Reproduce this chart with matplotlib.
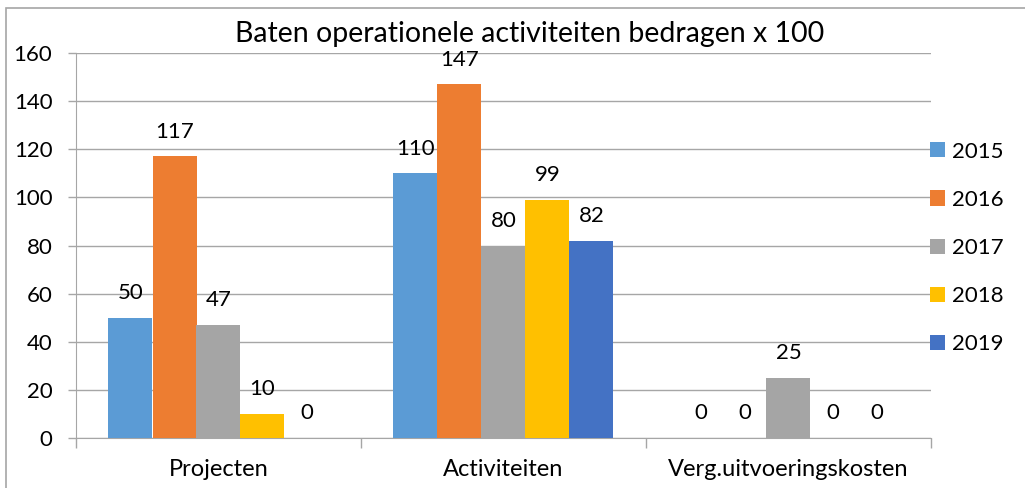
import matplotlib
matplotlib.use("Agg")
import matplotlib.pyplot as plt
import numpy as np
from matplotlib.patches import Rectangle

plt.rcParams['font.family'] = ['Lato', 'DejaVu Sans']

categories = ['Projecten', 'Activiteiten', 'Verg.uitvoeringskosten']
years = ['2015', '2016', '2017', '2018', '2019']
values = {
    '2015': [50, 110, 0],
    '2016': [117, 147, 0],
    '2017': [47, 80, 25],
    '2018': [10, 99, 0],
    '2019': [0, 82, 0],
}
colors = ['#5B9BD5', '#ED7D31', '#A5A5A5', '#FFC000', '#4472C4']
title = 'Baten operationele activiteiten bedragen x 100'

W, H = 1025, 488
fig = plt.figure(figsize=(W / 100, H / 100), dpi=100)
ax = fig.add_axes([76 / W, 1 - 438 / H, (931 - 76) / W, (438 - 53) / H])

x = np.arange(len(categories))
width = 44 / 285
handles = []
for i, yr in enumerate(years):
    pos = x + (i - 2) * width
    bars = ax.bar(pos, values[yr], width, color=colors[i], label=yr, zorder=3)
    handles.append(bars)
    for px, v in zip(pos, values[yr]):
        ax.annotate(str(v), (px, v), xytext=(0, 13.5), textcoords='offset points',
                    ha='center', va='baseline', fontsize=16, color='#000000',
                    zorder=4, annotation_clip=False)

ax.set_xlim(-0.5, 2.5)
ax.set_ylim(0, 160)
ax.set_yticks(np.arange(0, 161, 20))
ax.yaxis.grid(True, color='#A6A6A6', linewidth=1.0, zorder=0)
ax.set_axisbelow(True)
ax.set_xticks([-0.5, 0.5, 1.5, 2.5])
ax.set_xticklabels([])
ax.set_xticks(x, minor=True)
ax.set_xticklabels(categories, minor=True, fontsize=17)
ax.tick_params(axis='x', which='minor', length=0, pad=15)
ax.tick_params(axis='x', which='major', length=7, color='#A6A6A6', width=1)
ax.tick_params(axis='y', length=6, color='#A6A6A6', width=1, labelsize=16, pad=11)
for s in ['top', 'right']:
    ax.spines[s].set_visible(False)
for s in ['left', 'bottom']:
    ax.spines[s].set_color('#A6A6A6')

ax.legend(handles=handles, loc='center left', bbox_to_anchor=(0.9075, 1 - 248 / H),
          bbox_transform=fig.transFigure, frameon=False, fontsize=16,
          handlelength=0.68, handleheight=0.68, handletextpad=0.3, labelspacing=1.27,
          borderpad=0, borderaxespad=0)

# chart frame (cropped at right and bottom)
fig.patches.append(Rectangle((6 / W, -0.1), 2, 1.1 - 8 / H, transform=fig.transFigure,
                             fill=False, edgecolor='#A6A6A6', linewidth=1.2, zorder=1))
fig.text(530 / W, 1 - 42 / H, title, ha='center', va='baseline', fontsize=20.5,
         color='#000000', zorder=6)

fig.savefig('out.png', dpi=100)
